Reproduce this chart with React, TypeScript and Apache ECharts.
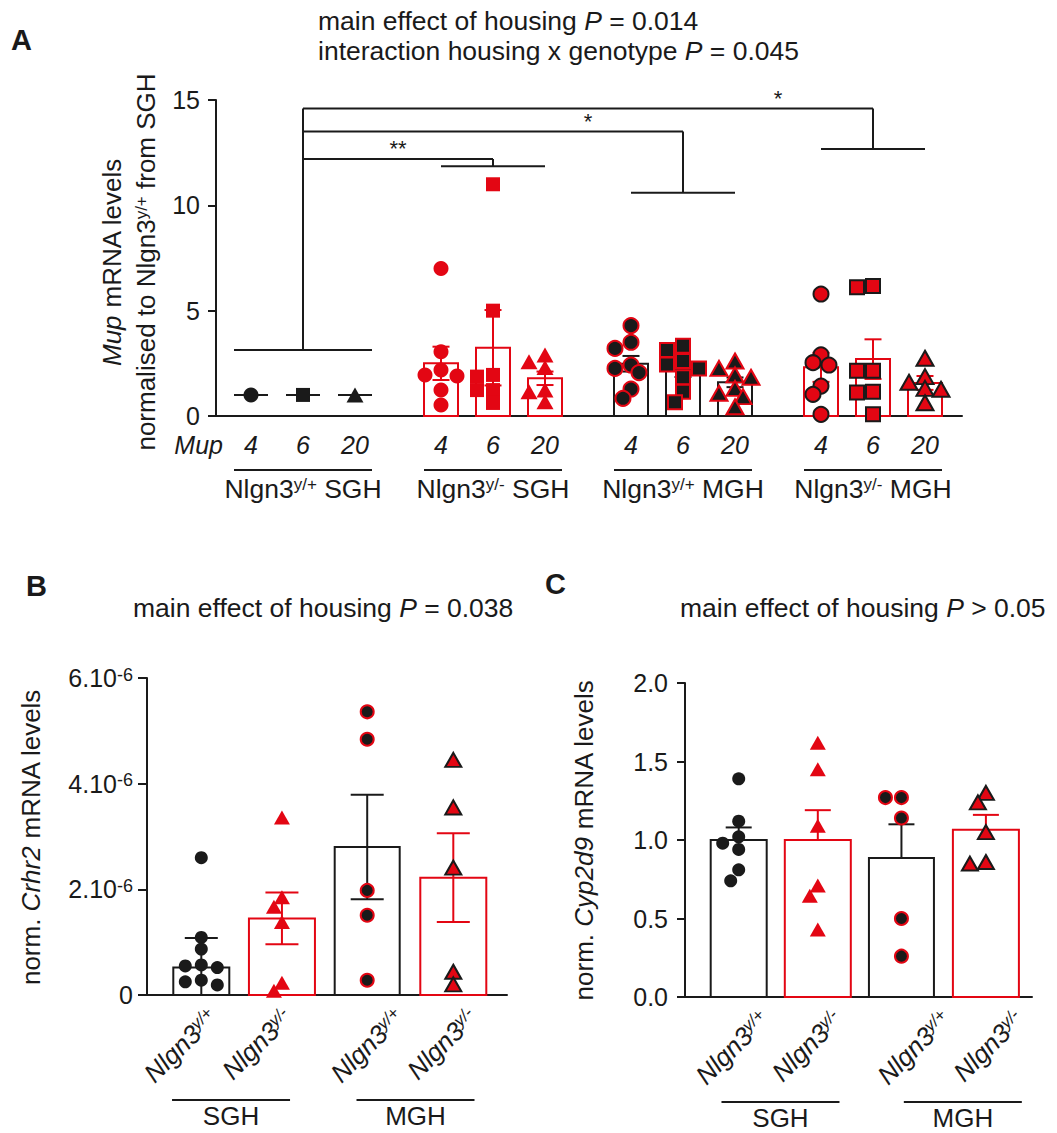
import React, { useEffect, useRef } from 'react';
import * as echarts from 'echarts';

const RED = '#e30613';
const INK = '#1a1a1a';
const FONT = '"Liberation Sans", Arial, Helvetica, sans-serif';

// ===== Panel A: Mup mRNA (normalised) =====
const mupLabels = ['4', '6', '20'];
const genotypeSup = ['y/+', 'y/-', 'y/+', 'y/-'];
const housingA = ['SGH', 'SGH', 'MGH', 'MGH'];
const aTicks = [0, 5, 10, 15];
const aMeans = [[1, 1, 1], [2.5, 3.24, 1.79], [2.48, 2.18, 1.6], [2.31, 2.7, 1.57]];
const aSems = [[0, 0, 0], [0.79, 1.79, 0.32], [0.37, 0.33, 0.23], [0.69, 0.94, 0.33]];
const aSghYp = [[1], [1], [1]];
const aSghYm = [[7.0, 3.05, 2.18, 1.95, 1.9, 1.23, 0.52], [11.0, 5.0, 1.95, 1.87, 1.23, 1.23, 0.62], [2.9, 2.58, 2.3, 1.23, 1.15, 0.68]];
const aMghYp = [[4.29, 3.5, 3.21, 2.42, 2.26, 2.06, 1.28, 0.84], [3.34, 3.13, 2.61, 2.45, 2.26, 1.84, 1.15, 0.65], [2.61, 2.26, 1.95, 1.84, 1.31, 1.08, 0.92, 0.44]];
const aMghYm = [[5.79, 2.9, 2.53, 2.42, 1.42, 1.03, 0.08], [6.17, 6.11, 2.15, 2.15, 1.15, 1.12, 0.08], [2.74, 1.87, 1.6, 1.31, 1.27, 0.63]];
const aStars = ['**', '*', '*'];
const aBracketLevels = [12.2, 13.5, 14.6];
const aHookLevels = [11.85, 10.6, 12.67];
const aRefLevel = 3.13;

// ===== Panel B: Crhr2 (units of 10^-6) =====
const housingBC = ['SGH', 'MGH'];
const bTicks = [0, 2, 4, 6];
const bMeans = [0.52, 1.45, 2.8, 2.22];
const bSems = [0.56, 0.49, 0.99, 0.84];
const bPoints = [
  [2.6, 1.09, 0.87, 0.57, 0.55, 0.52, 0.28, 0.25, 0.19],
  [3.36, 1.85, 1.67, 1.38, 0.23, 0.08],
  [5.36, 4.84, 1.98, 1.51, 0.28],
  [4.45, 3.55, 2.41, 0.44, 0.2],
];

// ===== Panel C: Cyp2d9 =====
const cTicks = [0, 0.5, 1, 1.5, 2];
const cMeans = [1.0, 1.0, 0.885, 1.066];
const cSems = [0.08, 0.19, 0.215, 0.094];
const cPoints = [
  [1.39, 1.12, 1.02, 0.98, 0.94, 0.81, 0.74],
  [1.62, 1.45, 1.09, 0.71, 0.645, 0.43],
  [1.27, 1.27, 1.14, 0.5, 0.26],
  [1.3, 1.24, 1.05, 0.86, 0.85],
];

// ===== Layout (not data) =====
const A_GRID = { left: 216, top: 100, width: 746, height: 316 };
const A_UNIT = 52;
const A_GSTEP = 190 / 52;
const A_XMIN = -35 / 52;
const A_XMAX = A_XMIN + 746 / 52;
const A_BARW = 34;
const aX = (g: number, i: number) => g * A_GSTEP + i;

const B_GRID = { left: 147, top: 678, width: 360, height: 317 };
const B_UNIT = 84;
const B_XMIN = -54.3 / 84;
const B_XMAX = B_XMIN + 360 / 84;
const C_GRID = { left: 685, top: 683, width: 347, height: 314 };
const C_UNIT = 82.4;
const C_XMIN = -53.7 / 82.4;
const C_XMAX = C_XMIN + 347 / 82.4;
const bcX = [0, 0.96, 1.975, 3.0];
const bcBarW = [56, 66, 65, 66];
const bLabelX = [0.064, 0.957, 2.286, 3.16];
const cLabelX = [0.238, 1.128, 2.443, 3.33];
const bUnderX = [0.354, 2.55];
const cUnderX = [0.507, 2.72];

const groupStyle = [
  { fill: INK, stroke: INK, bw: 0 },
  { fill: RED, stroke: RED, bw: 0 },
  { fill: INK, stroke: RED, bw: 2 },
  { fill: RED, stroke: INK, bw: 2 },
];
const barColor = [INK, RED, INK, RED];

const tok = (size: number, extra: any = {}) => ({ fontSize: size, fontFamily: FONT, fill: INK, ...extra });

function swarm(vals: number[], pxPerUnit: number, minDist: number, step: number): number[] {
  const placed: { x: number; y: number }[] = [];
  const out: number[] = [];
  for (const v of vals) {
    const y = v * pxPerUnit;
    let chosen = 0;
    for (let k = 0; k < 30; k++) {
      const c = k === 0 ? 0 : (k % 2 ? -1 : 1) * Math.ceil(k / 2) * step;
      if (placed.every((p) => (p.x - c) ** 2 + (p.y - y) ** 2 >= minDist * minDist)) {
        chosen = c;
        break;
      }
    }
    placed.push({ x: chosen, y });
    out.push(chosen);
  }
  return out;
}

type Bar = { x: number; mean: number; sem: number; w: number; color: string; kind: 'bar' | 'line' };

function lineEl(x1: number, y1: number, x2: number, y2: number, color = INK, w = 2) {
  return { type: 'line', shape: { x1, y1, x2, y2 }, style: { stroke: color, lineWidth: w } };
}

function barRenderer(bars: Bar[], capW: number, both: boolean) {
  return (params: any, api: any) => {
    const b = bars[params.dataIndex];
    const x = api.value(0);
    const mean = api.value(1);
    const sem = api.value(2);
    const [cx, cy] = api.coord([x, mean]);
    const y0 = api.coord([x, 0])[1];
    const ch: any[] = [];
    if (b.kind === 'bar') {
      ch.push({ type: 'rect', shape: { x: cx - b.w / 2, y: cy, width: b.w, height: y0 - cy }, style: { fill: 'none', stroke: b.color, lineWidth: 2 } });
    } else {
      ch.push(lineEl(cx - b.w / 2, cy, cx + b.w / 2, cy, b.color));
    }
    if (sem > 0) {
      const yT = api.coord([x, mean + sem])[1];
      const lowV = both ? Math.max(0, mean - sem) : mean;
      const yL = api.coord([x, lowV])[1];
      ch.push(lineEl(cx, yT, cx, yL, b.color));
      ch.push(lineEl(cx - capW / 2, yT, cx + capW / 2, yT, b.color));
      if (both && mean - sem > 0) ch.push(lineEl(cx - capW / 2, yL, cx + capW / 2, yL, b.color));
    }
    return { type: 'group', children: ch };
  };
}

function annotARenderer() {
  return (_params: any, api: any) => {
    const ch: any[] = [];
    const px = (x: number, y: number) => api.coord([x, y]);
    const y0 = px(0, 0)[1];
    const gc = (g: number) => px(aX(g, 1), 0)[0];
    for (let g = 0; g < 4; g++) {
      for (let i = 0; i < 3; i++) {
        ch.push({ type: 'text', x: px(aX(g, i), 0)[0], y: y0 + 29, style: tok(25, { text: mupLabels[i], fontStyle: 'italic', align: 'center', verticalAlign: 'middle' }) });
      }
      const l = px(aX(g, 0), 0)[0] - A_BARW / 2;
      const r = px(aX(g, 2), 0)[0] + A_BARW / 2;
      ch.push(lineEl(l, y0 + 54, r, y0 + 54));
      ch.push({
        type: 'text', x: gc(g), y: y0 + 73,
        style: tok(26.5, { text: 'Nlgn3{s|' + genotypeSup[g] + '} ' + housingA[g], align: 'center', verticalAlign: 'middle', rich: { s: tok(17, { verticalAlign: 'top' }) } }),
      });
    }
    ch.push({ type: 'text', x: px(A_XMIN, 0)[0] + 7, y: y0 + 29, style: tok(25, { text: 'Mup', fontStyle: 'italic', align: 'right', verticalAlign: 'middle' }) });
    // reference bracket over Nlgn3 y/+ SGH
    const yRef = px(0, aRefLevel)[1];
    ch.push(lineEl(px(aX(0, 0), 0)[0] - A_BARW / 2, yRef, px(aX(0, 2), 0)[0] + A_BARW / 2, yRef));
    const yTop = px(0, Math.max(...aBracketLevels))[1];
    ch.push(lineEl(gc(0), yRef, gc(0), yTop));
    for (let k = 0; k < 3; k++) {
      const g = k + 1;
      const yL = px(0, aBracketLevels[k])[1];
      const yH = px(0, aHookLevels[k])[1];
      ch.push(lineEl(gc(0), yL, gc(g), yL));
      ch.push(lineEl(gc(g), yL, gc(g), yH));
      ch.push(lineEl(px(aX(g, 0), 0)[0], yH, px(aX(g, 2), 0)[0], yH));
      ch.push({ type: 'text', x: (gc(g - 1) + gc(g)) / 2, y: yL - 10, style: tok(22, { text: aStars[k], align: 'center', verticalAlign: 'middle' }) });
    }
    return { type: 'group', children: ch };
  };
}

function annotBCRenderer(labelX: number[], underX: number[]) {
  return (_params: any, api: any) => {
    const ch: any[] = [];
    const y0 = api.coord([0, 0])[1];
    labelX.forEach((p, k) => {
      const x = api.coord([p, 0])[0];
      ch.push({
        type: 'text', x: x - 3, y: y0 + 9, rotation: Math.PI / 4,
        style: tok(26, { text: 'Nlgn3{s|' + genotypeSup[k] + '}', fontStyle: 'italic', align: 'right', verticalAlign: 'top', rich: { s: tok(17, { fontStyle: 'italic', verticalAlign: 'top' }) } }),
      });
    });
    underX.forEach((c, h) => {
      const x = api.coord([c, 0])[0];
      ch.push(lineEl(x - 59, y0 + 105, x + 59, y0 + 105));
      ch.push({ type: 'text', x, y: y0 + 121, style: tok(26, { text: housingBC[h], align: 'center', verticalAlign: 'middle' }) });
    });
    return { type: 'group', children: ch };
  };
}

function yAxisCfg(gridIndex: number, ticks: number[], margin: number, tickLen: number, formatter?: any, rich?: any) {
  return {
    type: 'value', gridIndex, min: ticks[0], max: ticks[ticks.length - 1], interval: ticks[1] - ticks[0],
    axisLine: { show: true, onZero: false, lineStyle: { color: INK, width: 2 } },
    axisTick: { show: true, length: tickLen, lineStyle: { color: INK, width: 2 } },
    axisLabel: { color: INK, fontSize: 25, fontFamily: FONT, margin, formatter, rich },
    splitLine: { show: false },
  };
}

function xAxisCfg(gridIndex: number, min: number, max: number) {
  return {
    type: 'value', gridIndex, min, max,
    axisLine: { show: true, onZero: false, lineStyle: { color: INK, width: 2 } },
    axisTick: { show: false }, axisLabel: { show: false }, splitLine: { show: false },
  };
}

function scatter(axis: number, items: any[], g: number) {
  const s = groupStyle[g];
  return {
    type: 'scatter', xAxisIndex: axis, yAxisIndex: axis, data: items, z: 5, silent: true,
    itemStyle: { color: s.fill, borderColor: s.stroke, borderWidth: s.bw, opacity: 1 },
    emphasis: { disabled: true },
  };
}

function buildOption() {
  const series: any[] = [];
  // ----- Panel A -----
  const aBars: Bar[] = [];
  for (let g = 0; g < 4; g++) for (let i = 0; i < 3; i++) {
    aBars.push({ x: aX(g, i), mean: aMeans[g][i], sem: aSems[g][i], w: A_BARW, color: barColor[g], kind: g === 0 ? 'line' : 'bar' });
  }
  series.push({ type: 'custom', xAxisIndex: 0, yAxisIndex: 0, data: aBars.map((b) => [b.x, b.mean, b.sem]), renderItem: barRenderer(aBars, 17, true), z: 3, silent: true });
  series.push({ type: 'custom', xAxisIndex: 0, yAxisIndex: 0, data: [[0, 0]], renderItem: annotARenderer(), z: 2, silent: true, clip: false });
  const aSymbols = ['circle', 'rect', 'triangle'];
  const aSizes: any[] = [15, 14, [17, 15]];
  [aSghYp, aSghYm, aMghYp, aMghYm].forEach((grp, g) => {
    const items: any[] = [];
    grp.forEach((vals, i) => {
      const offs = swarm(vals, A_GRID.height / 15, 11, 8);
      vals.forEach((v, j) => items.push({ value: [aX(g, i) + offs[j] / A_UNIT, v], symbol: aSymbols[i], symbolSize: aSizes[i] }));
    });
    series.push(scatter(0, items, g));
  });

  // ----- Panels B and C -----
  const panels = [
    { axis: 1, means: bMeans, sems: bSems, pts: bPoints, unit: B_UNIT, ppu: B_GRID.height / 6, cap: 33, both: true, labelX: bLabelX, underX: bUnderX },
    { axis: 2, means: cMeans, sems: cSems, pts: cPoints, unit: C_UNIT, ppu: C_GRID.height / 2, cap: 26, both: false, labelX: cLabelX, underX: cUnderX },
  ];
  panels.forEach((p) => {
    const bars: Bar[] = p.means.map((m, k) => ({ x: bcX[k], mean: m, sem: p.sems[k], w: bcBarW[k], color: barColor[k], kind: 'bar' }));
    series.push({ type: 'custom', xAxisIndex: p.axis, yAxisIndex: p.axis, data: bars.map((b) => [b.x, b.mean, b.sem]), renderItem: barRenderer(bars, p.cap, p.both), z: 3, silent: true });
    series.push({ type: 'custom', xAxisIndex: p.axis, yAxisIndex: p.axis, data: [[0, 0]], renderItem: annotBCRenderer(p.labelX, p.underX), z: 2, silent: true, clip: false });
    p.pts.forEach((vals, k) => {
      const offs = swarm(vals, p.ppu, 11, 8);
      const tri = k % 2 === 1;
      const items = vals.map((v, j) => ({ value: [bcX[k] + offs[j] / p.unit, v], symbol: tri ? 'triangle' : 'circle', symbolSize: tri ? [16, 14] : 13 }));
      series.push(scatter(p.axis, items, k));
    });
  });

  const supRich = { s: { fontSize: 18, fontFamily: FONT, color: INK, verticalAlign: 'top' } };
  const italic = (size: number) => tok(size, { fontStyle: 'italic' });
  const title = (x: number, y: number, text: string) => ({
    type: 'text', x, y, silent: true,
    style: tok(26.5, { text, align: 'left', verticalAlign: 'middle', rich: { i: italic(26.5) } }),
  });
  const vtitle = (x: number, y: number, text: string) => ({
    type: 'text', x, y, rotation: Math.PI / 2, silent: true,
    style: tok(26, { text, align: 'center', verticalAlign: 'middle', rich: { i: italic(26), s: tok(17, { verticalAlign: 'top' }) } }),
  });
  const letter = (x: number, y: number, text: string) => ({
    type: 'text', x, y, silent: true, style: tok(29, { text, fontWeight: 'bold', align: 'left', verticalAlign: 'middle' }),
  });

  return {
    animation: false,
    backgroundColor: '#ffffff',
    grid: [
      { ...A_GRID, outerBoundsMode: 'none', containLabel: false },
      { ...B_GRID, outerBoundsMode: 'none', containLabel: false },
      { ...C_GRID, outerBoundsMode: 'none', containLabel: false },
    ],
    xAxis: [xAxisCfg(0, A_XMIN, A_XMAX), xAxisCfg(1, B_XMIN, B_XMAX), xAxisCfg(2, C_XMIN, C_XMAX)],
    yAxis: [
      yAxisCfg(0, aTicks, 16, 8),
      yAxisCfg(1, bTicks, 14, 9, (v: number) => (v === 0 ? '0' : `${v}.10{s|-6}`), supRich),
      yAxisCfg(2, cTicks, 17, 8, (v: number) => v.toFixed(1)),
    ],
    graphic: [
      letter(11, 40, 'A'),
      letter(26, 586, 'B'),
      letter(545, 584, 'C'),
      title(318, 21, 'main effect of housing {i|P} = 0.014'),
      title(318, 51, 'interaction housing x genotype {i|P} = 0.045'),
      title(133, 608, 'main effect of housing {i|P} = 0.038'),
      title(680, 608, 'main effect of housing {i|P} > 0.05'),
      vtitle(111.5, 262, '{i|Mup} mRNA levels'),
      vtitle(145.5, 262, 'normalised to Nlgn3{s|y/+} from SGH'),
      vtitle(31, 837, 'norm. {i|Crhr2} mRNA levels'),
      vtitle(584, 840, 'norm. {i|Cyp2d9} mRNA levels'),
    ],
    series,
  };
}

export default function App() {
  const ref = useRef<HTMLDivElement>(null);
  useEffect(() => {
    document.body.style.margin = '0';
    const chart = echarts.init(ref.current!, null, { renderer: 'svg' });
    chart.setOption(buildOption() as any);
    return () => chart.dispose();
  }, []);
  return <div ref={ref} style={{ width: 1057, height: 1133, background: '#fff' }} />;
}
